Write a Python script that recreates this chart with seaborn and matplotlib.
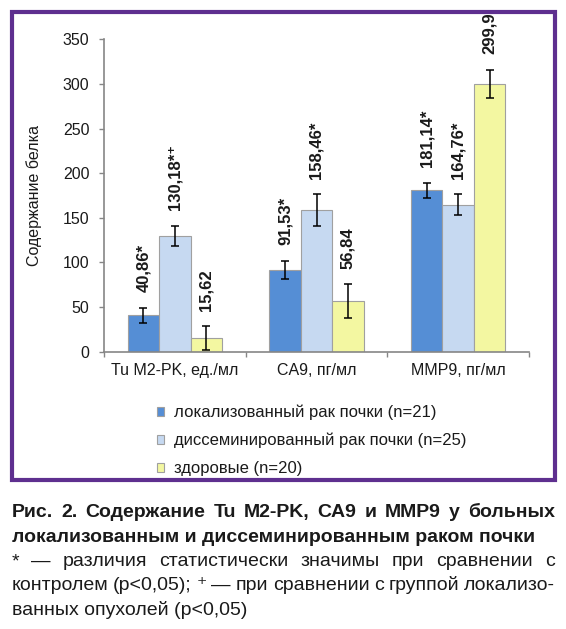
import matplotlib
matplotlib.use("Agg")
import matplotlib.pyplot as plt
import matplotlib.patches as mpatches
import numpy as np
import pandas as pd
import seaborn as sns

# Data
markers = ["Tu M2-PK, ед./мл", "CA9, пг/мл", "MMP9, пг/мл"]
groups = [
    "локализованный рак почки (n=21)",
    "диссеминированный рак почки (n=25)",
    "здоровые (n=20)",
]
loc_vals = [40.86, 91.53, 181.14]
dis_vals = [130.18, 158.46, 164.76]
healthy_vals = [15.62, 56.84, 299.9]
loc_err = [8.6, 10.5, 8.4]
dis_err = [11.2, 18.0, 11.6]
healthy_err = [13.2, 18.7, 16.0]
loc_labels = ["40,86*", "91,53*", "181,14*"]
dis_labels = ["130,18*⁺", "158,46*", "164,76*"]
healthy_labels = ["15,62", "56,84", "299,9"]
yticks = [0, 50, 100, 150, 200, 250, 300, 350]

caption_bold = [
    "Рис. 2. Содержание Tu M2-PK, CA9 и MMP9 у больных",
    "локализованным и диссеминированным раком почки",
]
caption_norm = [
    "* — различия статистически значимы при сравнении с",
    "контролем (p<0,05); ⁺ — при сравнении с группой локализо-",
    "ванных опухолей (p<0,05)",
]

colors = ["#558ED5", "#C6D9F1", "#F3F7A1"]
edge = "#A0A0A0"
axis_col = "#868686"

sns.set_theme(style="white")
plt.rcParams["font.family"] = ["Liberation Sans", "DejaVu Sans"]

W, H = 566, 629
fig = plt.figure(figsize=(W / 100, H / 100), dpi=100)
ax = fig.add_axes([104 / W, 1 - 351.7 / H, 425 / W, 312.4 / H])

df = pd.DataFrame({
    "marker": markers * 3,
    "group": [groups[0]] * 3 + [groups[1]] * 3 + [groups[2]] * 3,
    "value": loc_vals + dis_vals + healthy_vals,
})

sns.barplot(data=df, x="marker", y="value", hue="group", order=markers,
            hue_order=groups, palette=colors, saturation=1, width=0.667,
            errorbar=None, edgecolor=edge, linewidth=0.8, ax=ax)

handles, labels = ax.get_legend_handles_labels()
ax.get_legend().remove()

errs = [loc_err, dis_err, healthy_err]
lbls = [loc_labels, dis_labels, healthy_labels]
for cont, err, lab in zip(ax.containers, errs, lbls):
    for bar, e, t in zip(cont, err, lab):
        x = bar.get_x() + bar.get_width() / 2
        h = bar.get_height()
        ax.errorbar(x, h, yerr=e, fmt="none", ecolor="black", elinewidth=1.1,
                    capsize=3, capthick=1.1)
        ax.annotate(t, xy=(x, h + e), xytext=(0, 11), textcoords="offset points",
                    rotation=90, ha="center", va="bottom", fontweight="bold",
                    fontsize=12, color="#1a1a1a")

ax.set_ylim(0, 350)
ax.set_xlim(-0.5, 2.5)
ax.set_yticks(yticks)
ax.set_xticks(range(3))
ax.set_xticklabels(markers)
ax.set_xticks([-0.5, 0.5, 1.5, 2.5], minor=True)
ax.set_xlabel("")
ax.set_ylabel("Содержание белка", fontsize=11.5, color="#1a1a1a")
ax.yaxis.set_label_coords(-0.145, 0.5)

for s in ["top", "right"]:
    ax.spines[s].set_visible(False)
for s in ["left", "bottom"]:
    ax.spines[s].set_color(axis_col)
    ax.spines[s].set_linewidth(1.2)

ax.tick_params(axis="y", left=True, length=3.5, width=1, color=axis_col,
               direction="out", labelsize=11.5, pad=7, labelcolor="#1a1a1a")
ax.tick_params(axis="x", which="major", bottom=True, length=0, labelsize=11.5,
               pad=8, labelcolor="#1a1a1a")
ax.tick_params(axis="x", which="minor", bottom=True, length=3.5, width=1,
               color=axis_col, direction="out")

fig.legend(handles, labels, loc="upper left",
           bbox_to_anchor=(157 / W, 1 - 404.5 / H), frameon=False,
           borderpad=0, borderaxespad=0, handlelength=0.45, handleheight=0.45,
           handletextpad=0.6, labelspacing=0.77, fontsize=12,
           labelcolor="#1a1a1a")

# purple frame around the chart
fig.add_artist(mpatches.Rectangle((11.7 / W, 1 - 479.5 / H), (555 - 11.7) / W,
                                  (479.5 - 12) / H, transform=fig.transFigure,
                                  fill=False, edgecolor="#5E2F8F", lw=3))

# caption with justified lines
renderer = fig.canvas.get_renderer()
x0, x1 = 11.7, 554.7


def put_line(line, y, weight, justify):
    if not justify:
        fig.text(x0 / W, 1 - y / H, line, fontsize=14, fontweight=weight,
                 va="baseline", ha="left", color="#1a1a1a")
        return
    words = line.split(" ")
    texts = [fig.text(0, 1 - y / H, w, fontsize=14, fontweight=weight,
                      va="baseline", ha="left", color="#1a1a1a") for w in words]
    widths = [t.get_window_extent(renderer).width for t in texts]
    gap = (x1 - x0 - sum(widths)) / (len(words) - 1)
    x = x0
    for t, w in zip(texts, widths):
        t.set_x(x / W)
        x += w + gap


put_line(caption_bold[0], 517.3, "bold", True)
put_line(caption_bold[1], 541.7, "bold", False)
put_line(caption_norm[0], 566, "normal", True)
put_line(caption_norm[1], 590, "normal", True)
put_line(caption_norm[2], 615, "normal", False)

fig.savefig("out.png", dpi=100)
